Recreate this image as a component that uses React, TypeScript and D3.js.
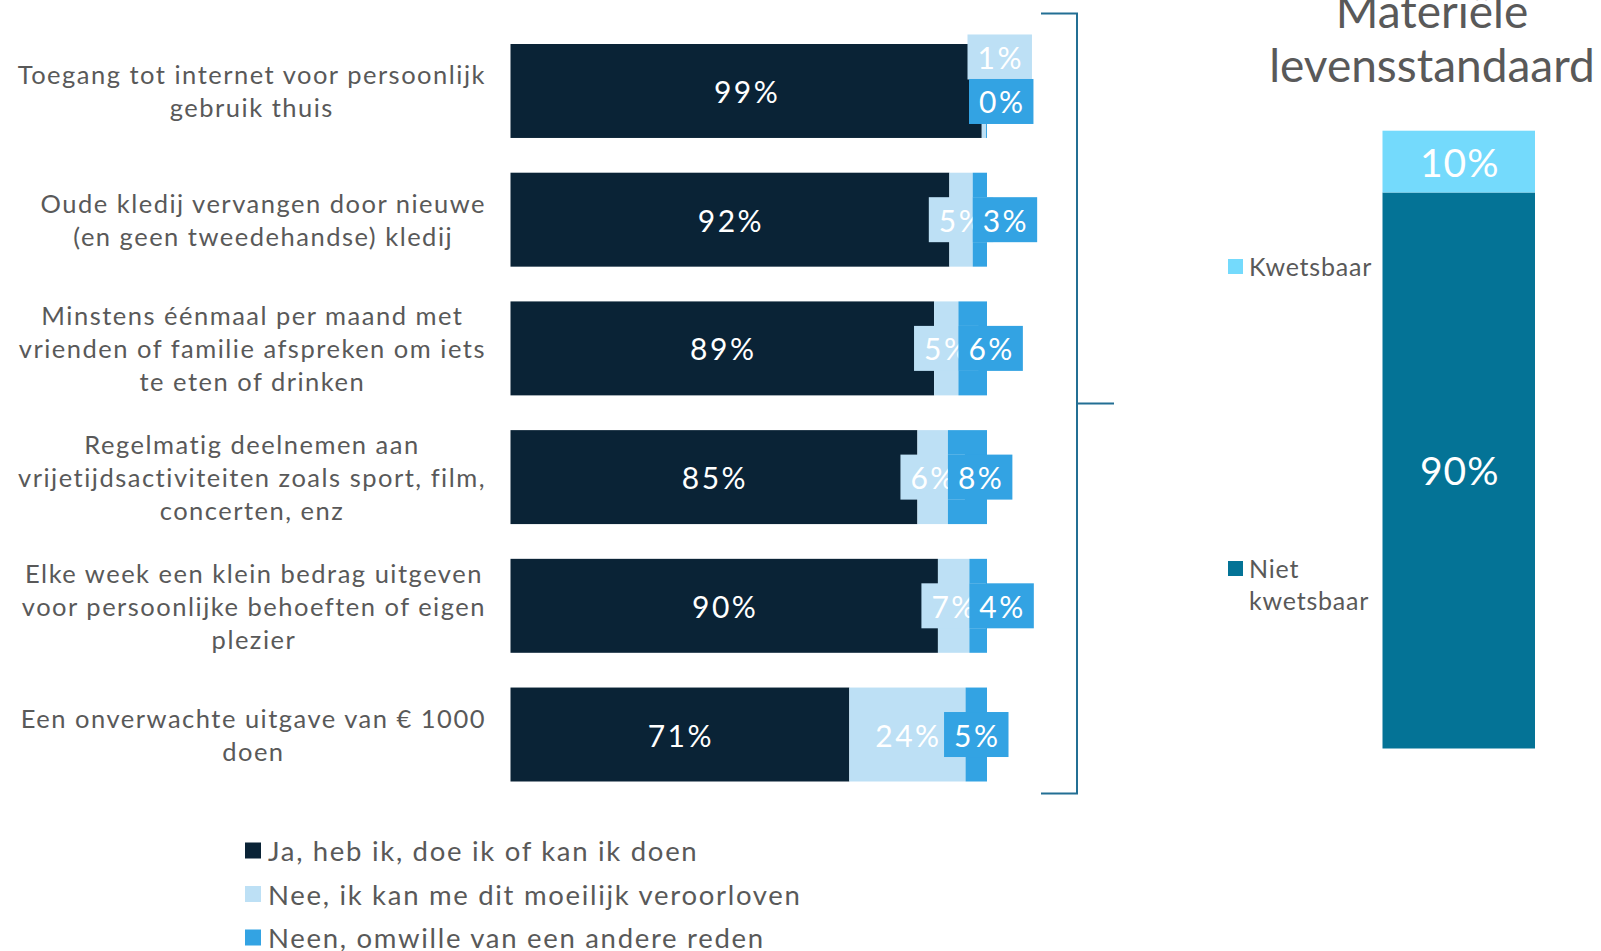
import React, { useEffect, useRef } from "react";
import * as d3 from "d3";

const categories: string[][] = [
  ["Toegang tot internet voor persoonlijk", "gebruik thuis"],
  ["Oude kledij vervangen door nieuwe", "(en geen tweedehandse) kledij"],
  ["Minstens éénmaal per maand met", "vrienden of familie afspreken om iets", "te eten of drinken"],
  ["Regelmatig deelnemen aan", "vrijetijdsactiviteiten zoals sport, film,", "concerten, enz"],
  ["Elke week een klein bedrag uitgeven", "voor persoonlijke behoeften of eigen", "plezier"],
  ["Een onverwachte uitgave van € 1000", "doen"],
];

const jaValues = [98.9, 92.1, 88.9, 85.4, 89.7, 71.1];
const neeValues = [0.9, 4.9, 5.1, 6.4, 6.6, 24.4];
const andereValues = [0.2, 3.0, 6.0, 8.2, 3.7, 4.5];

const seriesNames = [
  "Ja, heb ik, doe ik of kan ik doen",
  "Nee, ik kan me dit moeilijk veroorloven",
  "Neen, omwille van een andere reden",
];
const seriesColors = ["#0a2336", "#bde0f5", "#33a3e3"];

const standardTitle = ["Materiële", "levensstandaard"];
const standardNames = ["Kwetsbaar", "Niet kwetsbaar"];
const standardValues = [10, 90];
const standardColors = ["#74dafc", "#047396"];

const FONT = "Lato, 'Noto Sans', sans-serif";
const GREY = "#595959";

const App: React.FC = () => {
  const ref = useRef<SVGSVGElement | null>(null);

  useEffect(() => {
    if (!ref.current) return;
    const svg = d3.select(ref.current);
    svg.selectAll("*").remove();

    const x = d3.scaleLinear().domain([0, 100]).range([510.5, 987]);
    const y = d3
      .scaleBand<number>()
      .domain(d3.range(categories.length))
      .range([44, 781.5])
      .paddingInner(0.27)
      .paddingOuter(0);

    const rows = categories.map((c, i) => ({
      lines: c,
      vals: [jaValues[i], neeValues[i], andereValues[i]],
    }));

    // category labels: lines centred on each other, block right aligned
    const labelRight = 486;
    const lineH = 33;
    rows.forEach((r, i) => {
      const g = svg.append("g");
      const cy = y(i)! + y.bandwidth() / 2;
      const texts = g
        .selectAll("text")
        .data(r.lines)
        .enter()
        .append("text")
        .attr("font-family", FONT)
        .attr("font-size", 25.5)
        .attr("letter-spacing", 1.5)
        .attr("fill", GREY)
        .attr("text-anchor", "middle")
        .attr("dominant-baseline", "central")
        .attr("y", (_, j) => cy + (j - (r.lines.length - 1) / 2) * lineH)
        .text((d) => d);
      let maxW = 0;
      texts.each(function () {
        maxW = Math.max(maxW, (this as SVGTextElement).getComputedTextLength());
      });
      texts.attr("x", labelRight - maxW / 2);
    });

    // stacked bars
    rows.forEach((r, i) => {
      const top = y(i)!;
      const h = y.bandwidth();
      let acc = 0;
      r.vals.forEach((v, k) => {
        svg
          .append("rect")
          .attr("x", x(acc))
          .attr("y", top)
          .attr("width", x(acc + v) - x(acc))
          .attr("height", h)
          .attr("fill", seriesColors[k]);
        acc += v;
      });
    });

    // value labels
    const boxH = 45;
    const labelText = (
      g: d3.Selection<SVGGElement, unknown, null, undefined>,
      txt: string
    ) =>
      g
        .append("text")
        .attr("font-family", FONT)
        .attr("font-size", 30)
        .attr("letter-spacing", 2.5)
        .attr("fill", "#ffffff")
        .attr("text-anchor", "middle")
        .attr("dominant-baseline", "central")
        .text(txt);

    const boxWidth = (txt: string) => {
      const g = svg.append("g");
      const t = labelText(g, txt);
      const w = (t.node() as SVGTextElement).getComputedTextLength() + 18;
      g.remove();
      return w;
    };

    const addBoxLabel = (left: number, cy: number, txt: string, fill: string) => {
      const w = boxWidth(txt);
      const g = svg.append("g");
      g.append("rect")
        .attr("x", left)
        .attr("y", cy - boxH / 2)
        .attr("width", w)
        .attr("height", boxH)
        .attr("fill", fill);
      labelText(g, txt)
        .attr("x", left + w / 2 + 1)
        .attr("y", cy);
      return w;
    };

    const fmt = (v: number) => `${Math.round(v)}%`;

    rows.forEach((r, i) => {
      const cy = y(i)! + y.bandwidth() / 2;
      const [ja, nee, andere] = r.vals;
      const g = svg.append("g");
      labelText(g, fmt(ja))
        .attr("x", x(ja / 2) + 1)
        .attr("y", cy);
      if (nee + andere < 3) {
        // tiny segments: labels stacked past the bar end
        const end = x(ja + nee + andere);
        addBoxLabel(end - 19.5, cy - 34, fmt(nee), seriesColors[1]);
        addBoxLabel(end - 18, cy + 10.5, fmt(andere), seriesColors[2]);
      } else {
        const wNee = boxWidth(fmt(nee));
        addBoxLabel(x(ja + nee / 2) - wNee / 2, cy, fmt(nee), seriesColors[1]);
        const wAnd = boxWidth(fmt(andere));
        const segW = x(ja + nee) - x(ja);
        const left =
          segW > wNee ? x(ja + nee + andere / 2) - wAnd / 2 : x(ja + nee);
        addBoxLabel(left, cy, fmt(andere), seriesColors[2]);
      }
    });

    // bracket
    const bTop = 13.5;
    const bBottom = 793.5;
    const bx = 1077;
    svg
      .append("path")
      .attr(
        "d",
        `M${bx - 36},${bTop}H${bx}V${bBottom}H${bx - 36}M${bx},${(bTop + bBottom) / 2}H${bx + 37}`
      )
      .attr("fill", "none")
      .attr("stroke", "#236f94")
      .attr("stroke-width", 2);

    // bottom legend
    const lg = svg.append("g");
    seriesNames.forEach((n, k) => {
      const cy = 850.5 + k * 43.5;
      lg.append("rect")
        .attr("x", 245)
        .attr("y", cy - 8)
        .attr("width", 16)
        .attr("height", 16)
        .attr("fill", seriesColors[k]);
      lg.append("text")
        .attr("x", 268)
        .attr("y", cy)
        .attr("font-family", FONT)
        .attr("font-size", 27.5)
        .attr("letter-spacing", 1.7)
        .attr("fill", GREY)
        .attr("dominant-baseline", "central")
        .text(n);
    });

    // right chart
    const ys = d3.scaleLinear().domain([0, 100]).range([748.5, 130.7]);
    const bx0 = 1382.5;
    const bw = 152.5;
    const cxR = bx0 + bw / 2;
    let acc = 0;
    [1, 0].forEach((k) => {
      const v = standardValues[k];
      svg
        .append("rect")
        .attr("x", bx0)
        .attr("y", ys(acc + v))
        .attr("width", bw)
        .attr("height", ys(acc) - ys(acc + v))
        .attr("fill", standardColors[k]);
      svg
        .append("text")
        .attr("x", cxR + 1)
        .attr("y", ys(acc + v / 2))
        .attr("font-family", FONT)
        .attr("font-size", 39)
        .attr("letter-spacing", 1)
        .attr("fill", "#ffffff")
        .attr("text-anchor", "middle")
        .attr("dominant-baseline", "central")
        .text(`${v}%`);
      acc += v;
    });

    standardTitle.forEach((t, j) => {
      svg
        .append("text")
        .attr("x", 1432)
        .attr("y", 28 + j * 54)
        .attr("font-family", FONT)
        .attr("font-size", 46)
        .attr("fill", GREY)
        .attr("text-anchor", "middle")
        .text(t);
    });

    const legendY = [266, 568];
    standardNames.forEach((n, k) => {
      svg
        .append("rect")
        .attr("x", 1228)
        .attr("y", legendY[k] - 7)
        .attr("width", 15)
        .attr("height", 15)
        .attr("fill", standardColors[k]);
      const words = k === 0 ? [n] : n.split(" ");
      words.forEach((w, j) => {
        svg
          .append("text")
          .attr("x", 1249)
          .attr("y", legendY[k] + j * 32)
          .attr("font-family", FONT)
          .attr("font-size", 25)
          .attr("letter-spacing", 0.8)
          .attr("fill", GREY)
          .attr("dominant-baseline", "central")
          .text(w);
      });
    });
  }, []);

  return (
    <svg
      ref={ref}
      width={1601}
      height={951}
      style={{ position: "absolute", left: 0, top: 0, background: "#ffffff" }}
    />
  );
};

export default App;
